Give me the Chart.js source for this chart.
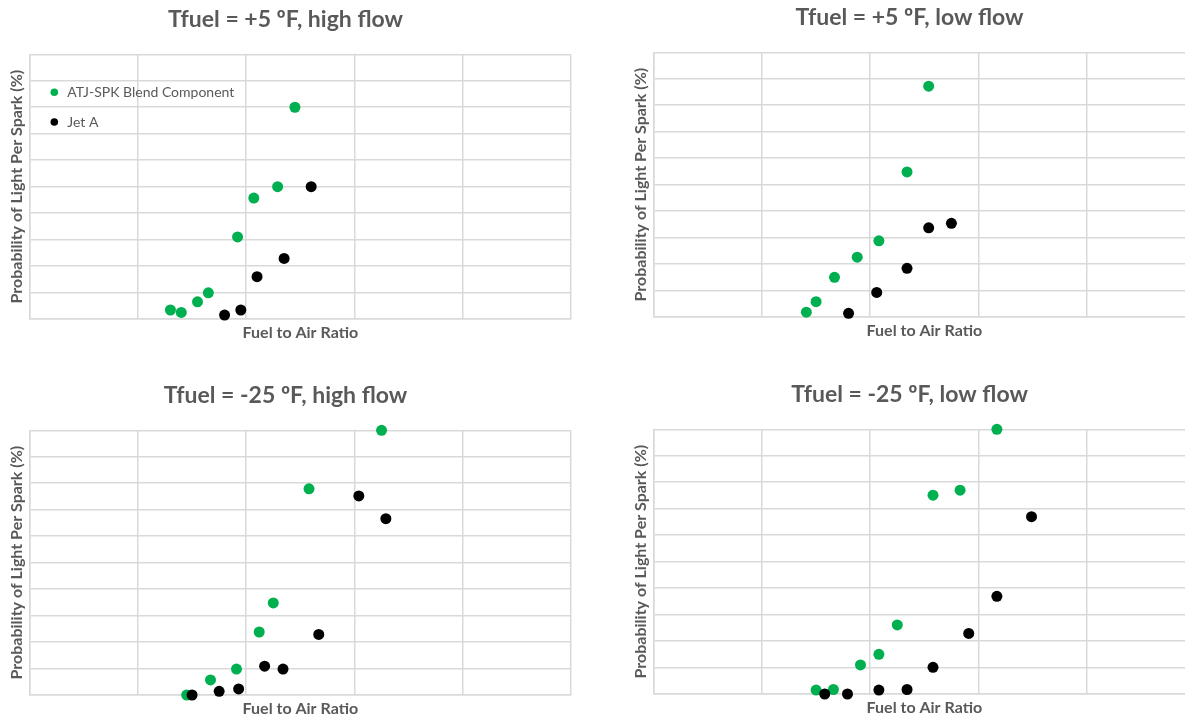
<!DOCTYPE html>
<html>
<head>
<meta charset="utf-8">
<script src="https://cdn.jsdelivr.net/npm/chart.js@4.4.1/dist/chart.umd.min.js"></script>
<style>
  html, body { margin: 0; padding: 0; background: #fff; overflow: hidden; width: 1185px; height: 717px; }
  canvas { position: absolute; }
</style>
</head>
<body>
<canvas id="p1" width="590" height="350" style="left:0px;top:0px"></canvas>
<canvas id="p2" width="590" height="350" style="left:624px;top:-2px"></canvas>
<canvas id="p3" width="590" height="350" style="left:0px;top:376px"></canvas>
<canvas id="p4" width="590" height="350" style="left:624px;top:375px"></canvas>
<script>
// Tfuel = +5 F, high flow
var atjHighP5X = [2.45, 2.29, 2.07, 1.92, 1.65, 1.55, 1.30, 1.40];
var atjHighP5Y = [80, 50, 45.7, 31, 9.9, 6.5, 3.4, 2.5];
var jetHighP5X = [2.60, 2.35, 2.10, 1.95, 1.80];
var jetHighP5Y = [50, 22.9, 16, 3.4, 1.5];

// Tfuel = +5 F, low flow
var atjLowP5X = [2.54, 2.34, 2.08, 1.88, 1.67, 1.50, 1.41];
var atjLowP5Y = [87.2, 54.8, 28.8, 22.6, 15.0, 5.8, 1.8];
var jetLowP5X = [2.75, 2.54, 2.34, 2.06, 1.80];
var jetLowP5Y = [35.4, 33.7, 18.4, 9.3, 1.4];

// Tfuel = -25 F, high flow
var atjHighM25X = [3.25, 2.58, 2.25, 2.12, 1.91, 1.67, 1.45];
var atjHighM25Y = [100, 77.9, 34.8, 23.8, 9.8, 5.7, 0];
var jetHighM25X = [3.04, 3.29, 2.67, 2.17, 2.34, 1.93, 1.75, 1.50];
var jetHighM25Y = [75.2, 66.6, 22.9, 10.9, 9.8, 2.3, 1.4, 0];

// Tfuel = -25 F, low flow
var atjLowM25X = [3.17, 2.83, 2.58, 2.25, 2.08, 1.91, 1.66, 1.50];
var atjLowM25Y = [100, 77.0, 75.1, 26.1, 15.0, 11.0, 1.7, 1.5];
var jetLowM25X = [3.49, 3.17, 2.91, 2.58, 2.34, 2.08, 1.79, 1.58];
var jetLowM25Y = [67.0, 36.9, 22.9, 10.1, 1.7, 1.5, 0, 0];

var seriesNames = ['ATJ-SPK Blend Component', 'Jet A'];
var titles = ['Tfuel = +5 \u00baF, high flow', 'Tfuel = +5 \u00baF, low flow',
              'Tfuel = -25 \u00baF, high flow', 'Tfuel = -25 \u00baF, low flow'];

var green = '#00b050';
var gridColor = '#d9d9d9';
var textGray = '#595959';
var fontFam = 'Lato, "Open Sans", sans-serif';

function toPoints(xs, ys) {
  return xs.map(function(x, i) { return {x: x, y: ys[i]}; });
}

// legend drawn inside the plot area (only on the first panel)
var insideLegend = {
  id: 'insideLegend',
  afterDatasetsDraw: function(chart, args, opts) {
    if (!opts.display) return;
    var ctx = chart.ctx, area = chart.chartArea;
    ctx.save();
    chart.data.datasets.forEach(function(ds, i) {
      var x = area.left + opts.x;
      var y = area.top + opts.y + i * opts.spacing;
      ctx.beginPath();
      ctx.arc(x, y, 3.8, 0, Math.PI * 2);
      ctx.fillStyle = ds.backgroundColor;
      ctx.fill();
      ctx.fillStyle = textGray;
      ctx.font = '14px ' + fontFam;
      ctx.textBaseline = 'middle';
      ctx.fillText(ds.label, x + 13, y + 0.5);
    });
    ctx.restore();
  }
};

function makeChart(id, title, atjX, atjY, jetX, jetY, showLegend) {
  return new Chart(document.getElementById(id), {
    type: 'scatter',
    data: {
      datasets: [{
        label: seriesNames[0],
        data: toPoints(atjX, atjY),
        backgroundColor: green,
        borderWidth: 0,
        pointRadius: 5.5,
        order: 1,
        clip: false
      }, {
        label: seriesNames[1],
        data: toPoints(jetX, jetY),
        backgroundColor: '#000000',
        borderWidth: 0,
        pointRadius: 5.5,
        order: 0,
        clip: false
      }]
    },
    options: {
      responsive: false,
      animation: false,
      layout: { padding: { left: 0, right: 19, top: 0, bottom: 0 } },
      plugins: {
        legend: { display: false },
        tooltip: { enabled: false },
        title: {
          display: true,
          text: title,
          color: textGray,
          font: { family: fontFam, size: 23, weight: 'bold' },
          padding: { top: 5.5, bottom: 21.2 }
        },
        insideLegend: { display: showLegend, x: 24.6, y: 38, spacing: 29.7 }
      },
      scales: {
        x: {
          type: 'linear', min: 0, max: 5,
          ticks: { display: false, stepSize: 1 },
          grid: { color: gridColor, lineWidth: 1.5, drawTicks: false },
          border: { color: gridColor, width: 1.5 },
          title: {
            display: true, text: 'Fuel to Air Ratio', color: textGray,
            font: { family: fontFam, size: 16, weight: 'bold' },
            padding: { top: 0, bottom: 7.4 }
          },
          afterFit: function(s) { s.height = 31; }
        },
        y: {
          min: 0, max: 100,
          ticks: { display: false, stepSize: 10 },
          grid: { color: gridColor, lineWidth: 1.5, drawTicks: false },
          border: { color: gridColor, width: 1.5 },
          title: {
            display: true, text: 'Probability of Light Per Spark (%)', color: textGray,
            font: { family: fontFam, size: 16, weight: 'bold' },
            padding: { top: 7.3, bottom: 0 }
          },
          afterFit: function(s) { s.width = 29.7; }
        }
      }
    },
    plugins: [insideLegend]
  });
}

makeChart('p1', titles[0], atjHighP5X, atjHighP5Y, jetHighP5X, jetHighP5Y, true);
makeChart('p2', titles[1], atjLowP5X, atjLowP5Y, jetLowP5X, jetLowP5Y, false);
makeChart('p3', titles[2], atjHighM25X, atjHighM25Y, jetHighM25X, jetHighM25Y, false);
makeChart('p4', titles[3], atjLowM25X, atjLowM25Y, jetLowM25X, jetLowM25Y, false);
</script>
</body>
</html>
